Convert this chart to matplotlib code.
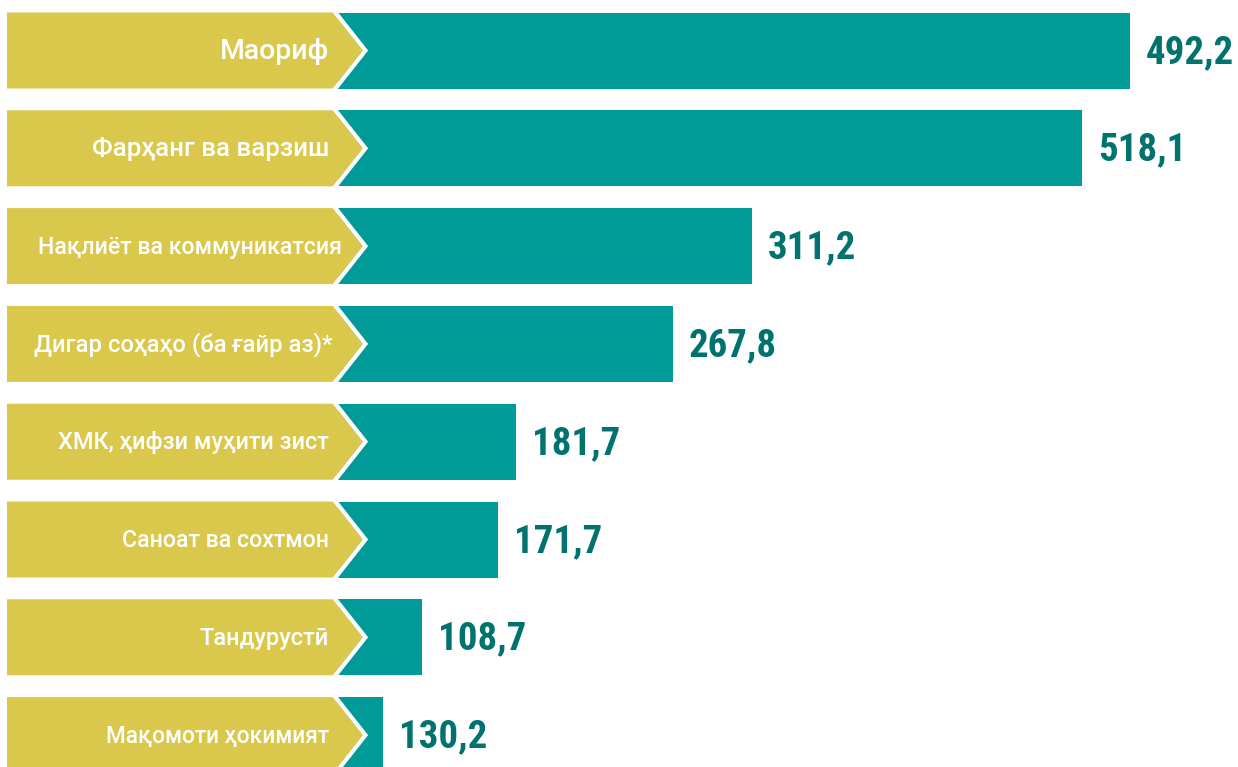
import matplotlib

matplotlib.use("Agg")
import matplotlib.pyplot as plt
from matplotlib.patches import Polygon

# --- данные ---
labels = [
    "Маориф",
    "Фарҳанг ва варзиш",
    "Нақлиёт ва коммуникатсия",
    "Дигар соҳаҳо (ба ғайр аз)*",
    "ХМК, ҳифзи муҳити зист",
    "Саноат ва сохтмон",
    "Тандурустӣ",
    "Мақомоти ҳокимият",
]
values = [492.2, 518.1, 311.2, 267.8, 181.7, 171.7, 108.7, 130.2]
# длина бирюзовой полосы на оригинале не пропорциональна подписи -> читаем отдельно
bar_len = [792, 744, 414, 335, 178, 160, 84, 45]

# оформление подписей (на оригинале кегль подогнан под плашку)
label_fs = [20.4, 18.6, 16.7, 17.2, 16.9, 16.7, 17.0, 16.3]
label_right = [329, 329, 342, 332, 329, 329, 329, 329]

YELLOW = "#D9C84B"
TEAL = "#009A98"
VAL_COLOR = "#00736F"

W, H = 1238, 767
PITCH = 97.8          # шаг строк [px]
Y0 = 50.5             # центр первой строки [px]
BAR_H = 76 / PITCH
X_LEFT = 7            # левый край жёлтой плашки
X_BOX = 333           # правый край прямоугольной части плашки
X_TIP = 363           # острие шеврона
X_BAR = 338           # начало бирюзовой полосы

fig = plt.figure(figsize=(W / 100, H / 100), dpi=100)
ax = fig.add_axes([0, 0, 1, 1])
ax.set_xlim(0, W)
ax.set_ylim((H - Y0) / PITCH, -Y0 / PITCH)
ax.axis("off")

ys = list(range(len(labels)))
ax.barh(ys, bar_len, left=X_BAR, height=BAR_H, color=TEAL, zorder=1)

for y, lab, val, ln, fs, xr in zip(ys, labels, values, bar_len, label_fs, label_right):
    top, bot = y - BAR_H / 2, y + BAR_H / 2
    ax.add_patch(Polygon([(X_LEFT, top), (X_BOX, top), (X_TIP, y), (X_BOX, bot), (X_LEFT, bot)],
                         closed=True, facecolor=YELLOW, edgecolor="none", zorder=2))
    ax.plot([X_BOX + 2.5, X_TIP + 2.5, X_BOX + 2.5], [top, y, bot],
            color="white", lw=3.0, solid_joinstyle="miter", zorder=3)
    ax.text(xr, y + 0.01, lab, ha="right", va="center", color="white",
            fontsize=fs, fontweight="medium", family=["Roboto", "DejaVu Sans"], zorder=4)
    ax.text(X_BAR + ln + 16, y + 0.02, f"{val:.1f}".replace(".", ","),
            ha="left", va="center", color=VAL_COLOR, fontsize=28, fontweight="bold",
            family=["Roboto Condensed", "DejaVu Sans"], fontstretch="condensed", zorder=4)

fig.savefig("out.png", dpi=100)
